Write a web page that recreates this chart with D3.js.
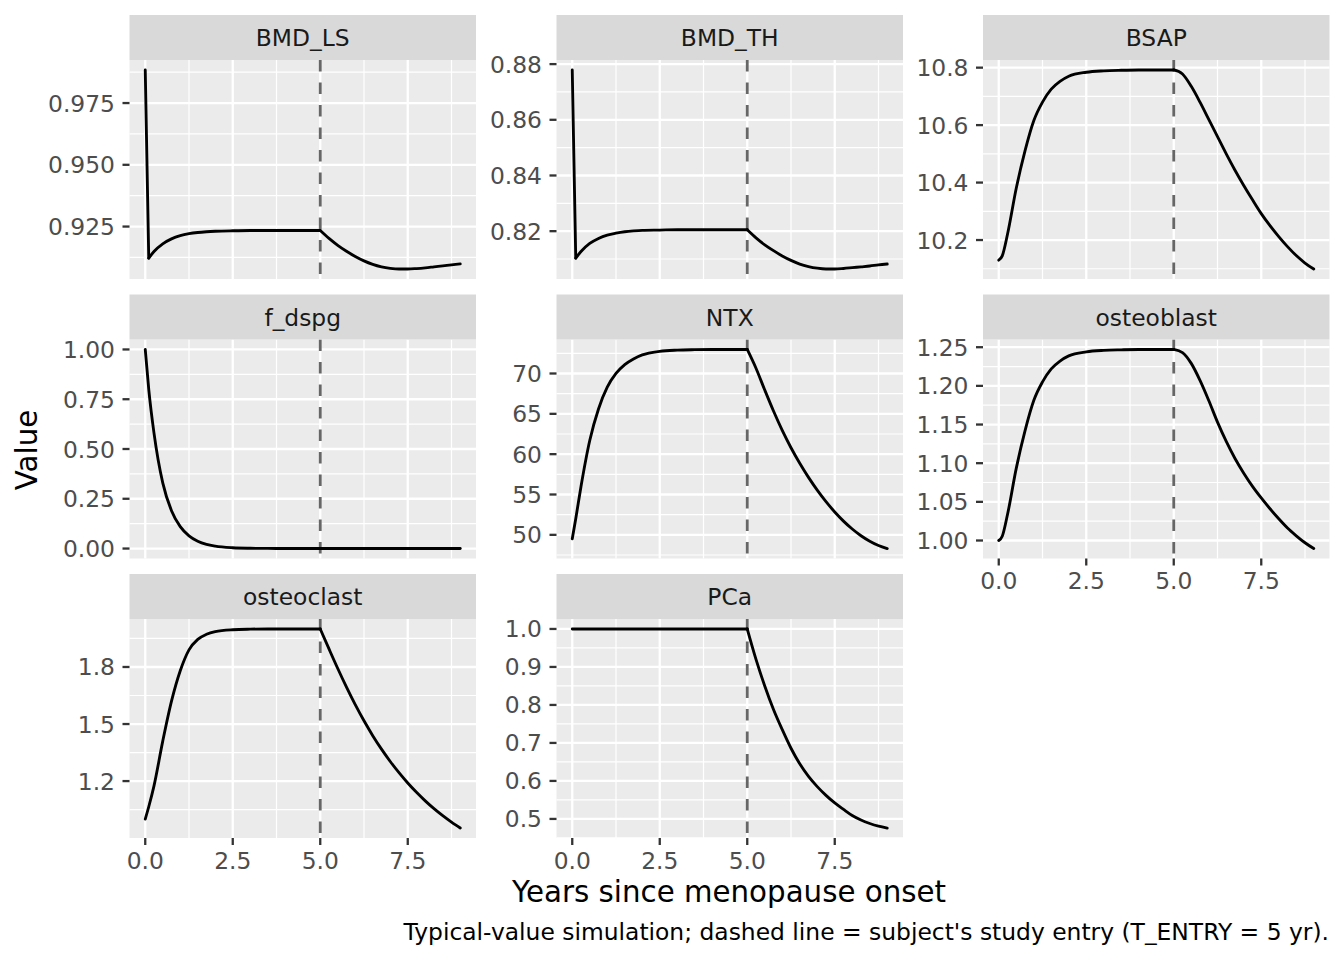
<!DOCTYPE html>
<html><head><meta charset="utf-8">
<script src="https://cdn.jsdelivr.net/npm/d3@7"></script>
<style>body{margin:0;background:#fff;} svg text{font-family:"DejaVu Sans",sans-serif;}</style>
</head><body><svg id="chart" width="1344" height="960"></svg>
<script>
// ---- data ----
const years = [0,0.1,0.25,0.5,0.75,1,1.25,1.5,1.75,2,2.5,3,3.5,4,4.5,5,5.25,5.5,5.75,6,6.25,6.5,6.75,7,7.25,7.5,7.75,8,8.25,8.5,8.75,9];
const panelNames = ["BMD_LS","BMD_TH","BSAP","f_dspg","NTX","osteoblast","osteoclast","PCa"];
const BMD_LS = [0.9884,0.9122,0.9149,0.9180,0.9200,0.9213,0.9221,0.9226,0.9229,0.9231,0.9233,0.9234,0.9234,0.9234,0.9234,0.9234,0.9202,0.9174,0.9150,0.9129,0.9111,0.9097,0.9087,0.9081,0.9078,0.9078,0.9080,0.9083,0.9087,0.9091,0.9095,0.9099];
const BMD_TH = [0.8779,0.8103,0.8127,0.8156,0.8174,0.8186,0.8193,0.8198,0.8201,0.8203,0.8204,0.8205,0.8205,0.8205,0.8205,0.8205,0.8176,0.8151,0.8130,0.8111,0.8095,0.8082,0.8073,0.8067,0.8064,0.8064,0.8066,0.8069,0.8072,0.8075,0.8079,0.8082];
const BSAP = [10.130,10.145,10.220,10.380,10.510,10.615,10.680,10.725,10.752,10.770,10.784,10.789,10.791,10.792,10.792,10.792,10.778,10.735,10.680,10.620,10.560,10.500,10.443,10.390,10.340,10.292,10.250,10.212,10.177,10.146,10.120,10.099];
const f_dspg = [1.0,0.80,0.58,0.33,0.19,0.11,0.064,0.037,0.021,0.012,0.004,0.0014,0.0005,0.0002,0.0001,0,0,0,0,0,0,0,0,0,0,0,0,0,0,0,0,0];
const NTX = [49.5,52.0,56.0,61.7,65.6,68.3,70.0,71.1,71.8,72.3,72.75,72.9,72.95,72.97,72.98,72.98,70.65,67.95,65.35,62.95,60.8,58.87,57.12,55.54,54.11,52.83,51.7,50.72,49.89,49.21,48.68,48.3];
const osteoblast = [1.000,1.0056,1.0336,1.0933,1.1418,1.1810,1.2052,1.2220,1.2321,1.2388,1.2440,1.2459,1.2466,1.2470,1.2471,1.2471,1.2431,1.2291,1.2071,1.1811,1.1531,1.1281,1.1061,1.0871,1.0701,1.0551,1.0411,1.0281,1.0161,1.0061,0.9971,0.9896];
const osteoclast = [1.0,1.065,1.175,1.41,1.62,1.78,1.89,1.945,1.972,1.986,1.996,1.999,2.0,2.0,2.0,2.0,1.895,1.792,1.694,1.602,1.517,1.439,1.368,1.303,1.244,1.190,1.141,1.096,1.055,1.018,0.984,0.953];
const PCa = [1,1,1,1,1,1,1,1,1,1,1,1,1,1,1,1,0.92,0.85,0.788,0.735,0.686,0.645,0.612,0.585,0.562,0.542,0.525,0.509,0.497,0.488,0.481,0.476];

// tick labels
const xTickLabels = ["0.0","2.5","5.0","7.5"];
const ticksBMD_LS = ["0.925","0.950","0.975"];
const ticksBMD_TH = ["0.82","0.84","0.86","0.88"];
const ticksBSAP = ["10.2","10.4","10.6","10.8"];
const ticksF_dspg = ["0.00","0.25","0.50","0.75","1.00"];
const ticksNTX = ["50","55","60","65","70"];
const ticksOsteoblast = ["1.00","1.05","1.10","1.15","1.20","1.25"];
const ticksOsteoclast = ["1.2","1.5","1.8"];
const ticksPCa = ["0.5","0.6","0.7","0.8","0.9","1.0"];
const entryYear = 5;
// years at which a series has a corner (kink) in the simulated trajectory
const cornersBMD = [0.1, 5];
const cornersOther = [5];

const seriesList = [BMD_LS,BMD_TH,BSAP,f_dspg,NTX,osteoblast,osteoclast,PCa];
const tickList = [ticksBMD_LS,ticksBMD_TH,ticksBSAP,ticksF_dspg,ticksNTX,ticksOsteoblast,ticksOsteoclast,ticksPCa];
const cornerList = [cornersBMD,cornersBMD,cornersOther,cornersOther,cornersOther,cornersOther,cornersOther,cornersOther];

// ---- layout ----
const svg = d3.select("#chart");
const colLeft = [129.5, 556.5, 983];
const PW = 346.5;
const stripTop = [15, 294.5, 574];
const SH = 45, PH = 219;
const FS = 23.4;

const xDomainPad = (9 - 0) * 0.05;
const xMajor = xTickLabels.map(Number);
const xMinor = [1.25, 3.75, 6.25, 8.75];

panelNames.forEach((name, i) => {
  const col = i % 3, row = Math.floor(i / 3);
  const left = colLeft[col];
  const sTop = stripTop[row];
  const top = sTop + SH, bottom = top + PH;
  const vals = seriesList[i];
  const data = years.map((t, k) => ({t, v: vals[k]}));

  const x = d3.scaleLinear().domain([0 - xDomainPad, 9 + xDomainPad]).range([left, left + PW]);
  const ext = d3.extent(vals);
  const pad = (ext[1] - ext[0]) * 0.05;
  const y = d3.scaleLinear().domain([ext[0] - pad, ext[1] + pad]).range([bottom, top]);

  const major = tickList[i].map(Number);
  const step = major[1] - major[0];
  const minor = [];
  minor.push(major[0] - step / 2);
  for (let k = 0; k < major.length; k++) minor.push(major[k] + step / 2);
  const yMinor = minor.filter(m => m > y.domain()[0] && m < y.domain()[1]);

  const g = svg.append("g");
  g.append("rect").attr("x", left).attr("y", top).attr("width", PW).attr("height", PH).attr("fill", "#EBEBEB");
  g.selectAll(".ymin").data(yMinor).enter().append("line")
    .attr("x1", left).attr("x2", left + PW).attr("y1", d => y(d)).attr("y2", d => y(d))
    .attr("stroke", "#fff").attr("stroke-width", 1.2);
  g.selectAll(".xmin").data(xMinor).enter().append("line")
    .attr("x1", d => x(d)).attr("x2", d => x(d)).attr("y1", top).attr("y2", bottom)
    .attr("stroke", "#fff").attr("stroke-width", 1.2);
  g.selectAll(".ymaj").data(major).enter().append("line")
    .attr("x1", left).attr("x2", left + PW).attr("y1", d => y(d)).attr("y2", d => y(d))
    .attr("stroke", "#fff").attr("stroke-width", 2.3);
  g.selectAll(".xmaj").data(xMajor).enter().append("line")
    .attr("x1", d => x(d)).attr("x2", d => x(d)).attr("y1", top).attr("y2", bottom)
    .attr("stroke", "#fff").attr("stroke-width", 2.3);

  g.append("line").attr("x1", x(entryYear)).attr("x2", x(entryYear)).attr("y1", top).attr("y2", bottom)
    .attr("stroke", "#666666").attr("stroke-width", 2.8).attr("stroke-dasharray", "11.5,11");

  // split the trajectory at its corners so the kinks stay sharp
  const corners = cornerList[i];
  const bounds = [0, ...corners.map(c => years.indexOf(c)), years.length - 1];
  const segments = [];
  for (let s = 0; s < bounds.length - 1; s++) segments.push(data.slice(bounds[s], bounds[s + 1] + 1));
  const line = d3.line().x(d => x(d.t)).y(d => y(d.v)).curve(d3.curveMonotoneX);
  g.selectAll(".seg").data(segments).enter().append("path").attr("d", line)
    .attr("fill", "none").attr("stroke", "#000").attr("stroke-width", 2.85)
    .attr("stroke-linejoin", "round").attr("stroke-linecap", "round");

  g.append("rect").attr("x", left).attr("y", sTop).attr("width", PW).attr("height", SH).attr("fill", "#D9D9D9");
  g.append("text").attr("x", left + PW / 2).attr("y", sTop + 31).attr("text-anchor", "middle")
    .attr("font-size", FS).attr("fill", "#1A1A1A").text(name);

  major.forEach((m, k) => {
    g.append("line").attr("x1", left - 7).attr("x2", left).attr("y1", y(m)).attr("y2", y(m))
      .attr("stroke", "#333333").attr("stroke-width", 2.3);
    g.append("text").attr("x", left - 14.5).attr("y", y(m) + 8.5).attr("text-anchor", "end")
      .attr("font-size", FS).attr("fill", "#4D4D4D").text(tickList[i][k]);
  });

  const isBottom = (i + 3 >= panelNames.length);
  if (isBottom) {
    xMajor.forEach((m, k) => {
      g.append("line").attr("x1", x(m)).attr("x2", x(m)).attr("y1", bottom).attr("y2", bottom + 7)
        .attr("stroke", "#333333").attr("stroke-width", 2.3);
      g.append("text").attr("x", x(m)).attr("y", bottom + 30.5).attr("text-anchor", "middle")
        .attr("font-size", FS).attr("fill", "#4D4D4D").text(xTickLabels[k]);
    });
  }
});

svg.append("text").attr("x", 729).attr("y", 902).attr("text-anchor", "middle")
  .attr("font-size", 29.3).attr("fill", "#000").text("Years since menopause onset");
svg.append("text").attr("transform", "translate(37,450) rotate(-90)").attr("text-anchor", "middle")
  .attr("font-size", 29.3).attr("fill", "#000").text("Value");
svg.append("text").attr("x", 1329).attr("y", 940).attr("text-anchor", "end")
  .attr("font-size", FS).attr("fill", "#000")
  .text("Typical-value simulation; dashed line = subject's study entry (T_ENTRY = 5 yr).");
</script></body></html>
